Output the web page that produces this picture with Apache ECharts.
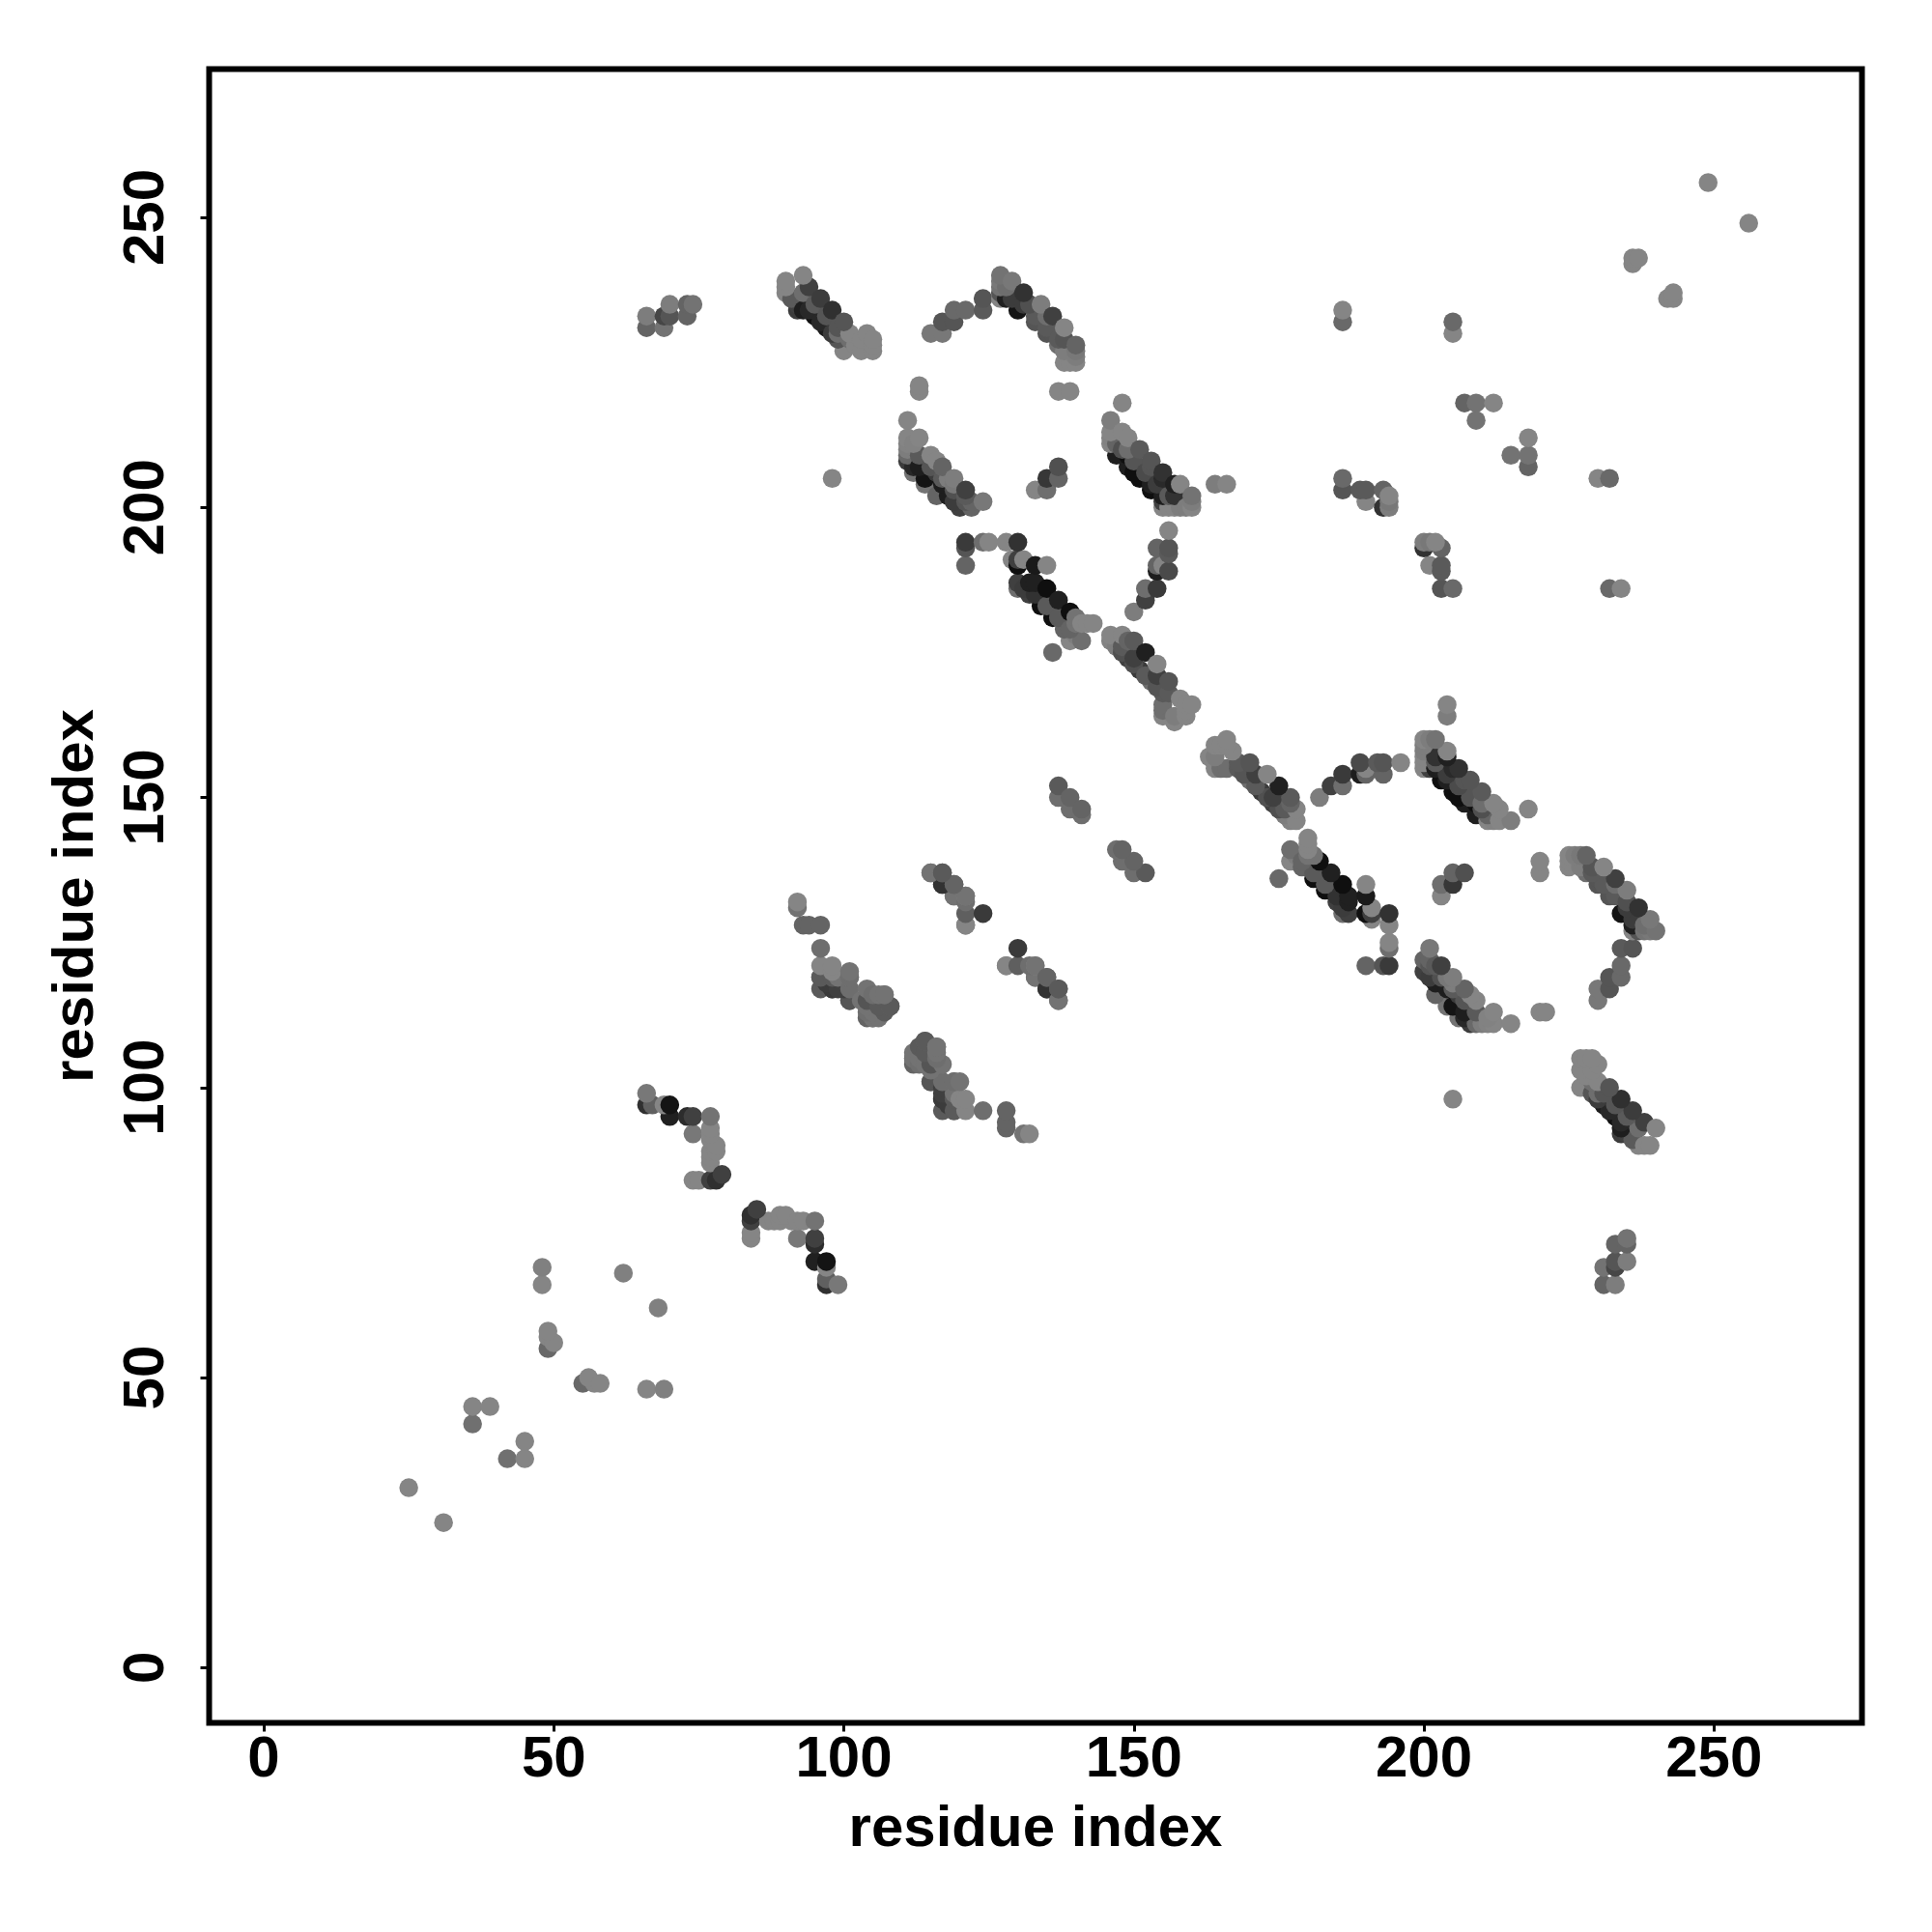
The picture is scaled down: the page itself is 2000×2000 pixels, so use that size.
<!DOCTYPE html>
<html><head><meta charset="utf-8">
<style>html,body{margin:0;padding:0;background:#fff}#c{width:2000px;height:2000px}</style>
<script src="https://cdn.jsdelivr.net/npm/echarts@6/dist/echarts.min.js"></script>
</head><body><div id="c"></div>
<script>
const tickLabels=[0,50,100,150,200,250];
const axisTitle="residue index";
// contacts: [residue i, residue j, grey level]
const scattered=[[25,31,133],[36,42,112],[36,45,133],[39,45,133],[48,66,133],[48,69,128],[49,55,104],[49,57,133],[49,58,133],[50,56,133],[62,68,128],[98,205,133],[113,220,133],[113,221,133],[137,220,133],[139,220,133],[236,242,133],[236,243,133],[237,243,133],[249,256,133]];
const hairpin=[[66,97,48],[66,99,120],[67,97,96],[69,97,133],[70,97,20],[70,95,32],[73,95,44],[74,95,64],[74,92,120],[77,95,115],[77,93,133],[77,92,133],[77,91,133],[78,90,133],[78,89,133],[77,89,133],[77,88,133],[77,87,133],[74,84,133],[75,84,133],[77,84,64],[78,84,48],[79,85,64]];
const clusterA=[[66,231,100],[66,233,125],[69,231,115],[69,233,70],[70,233,85],[70,235,125],[73,233,100],[73,235,100],[74,235,115]];
const clusterB=[[90,237,133],[90,238,133],[90,239,133],[93,240,133],[92,235,64],[91,236,90],[92,234,60],[93,237,110],[94,238,64],[95,235,90],[96,236,60],[97,233,85],[98,234,48],[99,231,85],[100,232,85],[95,233,16],[97,231,28],[99,229,85],[101,229,110],[100,227,133],[102,228,133],[103,229,133],[104,230,133],[105,228,133],[105,227,133],[101,230,133],[103,227,133],[105,229,133],[99,230,110],[94,234,40],[96,232,40],[98,230,60],[93,234,30]];
const arcC=[[115,230,120],[117,230,120],[117,232,85],[119,232,85],[119,234,105],[121,234,105],[124,234,90],[124,236,85]];
const clusterC=[[127,240,115],[127,239,120],[128,238,110],[127,238,115],[129,239,120],[127,237,85],[127,236,133],[128,236,32],[130,234,20],[131,237,50],[132,235,80],[134,235,125],[133,232,85],[135,230,85],[136,233,64],[136,230,85],[135,233,110],[138,231,133],[138,229,85],[137,228,110],[138,227,125],[140,228,100],[139,225,133],[140,226,125],[138,225,133],[140,225,133],[140,227,120],[129,236,60],[131,235,60],[133,233,90],[135,231,90],[137,229,90]];
const clusterD=[[111,215,133],[111,212,133],[113,212,133],[111,211,130],[111,210,125],[112,211,130],[111,209,105],[111,208,60],[112,207,40],[112,206,115],[113,207,30],[114,204,115],[114,205,20],[115,209,133],[116,208,133],[117,207,100],[116,206,60],[116,202,100],[117,204,30],[119,205,125],[118,205,125],[119,204,120],[118,202,30],[121,203,64],[120,200,64],[122,200,100],[122,201,100],[124,201,120],[119,201,60],[121,201,85],[113,209,90],[115,207,85],[117,205,90],[119,203,80],[121,202,90]];
const clusterE=[[133,203,133],[135,203,110],[135,205,55],[137,205,100],[137,207,80]];
const clusterF=[[146,211,133],[146,212,130],[146,213,133],[146,215,125],[148,218,133],[148,213,133],[149,212,133],[147,211,100],[147,209,30],[149,207,30],[149,209,15],[149,210,110],[151,210,90],[151,205,15],[150,206,15],[153,208,85],[153,207,85],[153,203,15],[153,204,32],[155,206,50],[155,205,42],[155,203,32],[155,202,30],[155,201,64],[155,200,133],[157,202,50],[157,204,32],[158,204,133],[156,200,133],[157,200,133],[158,200,125],[159,200,125],[160,200,133],[160,201,125],[160,202,115],[164,204,125],[166,204,133],[148,210,80],[150,208,85],[152,206,75],[154,204,60],[156,202,90]];
const clusterG=[[186,232,105],[186,234,133],[205,230,133],[205,232,105],[207,218,100],[209,218,115],[212,218,133],[209,215,115],[186,203,85],[186,205,105],[189,203,90],[190,203,90],[190,201,133],[193,203,100],[193,200,50],[194,202,133],[194,200,125],[194,201,120]];
const loopH=[[150,182,125],[152,184,64],[152,186,110],[154,186,58],[154,189,30],[154,190,100],[155,190,133],[156,189,74],[156,192,90],[156,193,85],[154,193,100],[156,196,133]];
const clusterI=[[121,194,58],[121,193,85],[121,190,100],[124,194,110],[125,194,133],[128,194,133],[130,194,50],[129,191,133],[130,191,64],[131,191,133],[130,190,16],[133,190,26],[135,190,133],[130,187,64],[130,186,110],[132,187,32],[133,187,32],[135,186,15],[137,184,32],[139,182,15],[132,185,64],[134,183,15],[136,181,15],[138,179,100],[140,181,115],[140,180,115],[141,180,133],[142,180,133],[143,180,133],[139,177,133],[140,178,125],[141,177,110],[136,175,105],[131,186,60],[133,185,50],[135,183,90],[137,181,90],[139,179,100]];
const clusterJ=[[146,178,133],[148,178,133],[146,177,130],[149,177,100],[150,177,90],[147,176,125],[148,176,90],[149,174,64],[150,174,64],[152,175,32],[151,172,58],[154,173,133],[154,171,64],[153,170,110],[156,170,85],[155,168,90],[156,168,90],[158,167,133],[160,166,133],[159,166,133],[159,165,133],[155,164,133],[157,163,133],[159,164,133],[155,165,110],[155,166,110],[157,164,125],[148,175,80],[150,173,80],[152,171,90],[154,169,85]];
const clusterK=[[137,152,90],[137,150,110],[139,150,100],[139,148,110],[141,148,100],[141,147,110]];
const clusterL=[[92,131,115],[92,132,133],[93,128,100],[94,128,100],[96,128,100],[96,124,110],[96,121,133],[98,121,133],[96,119,90],[98,117,64],[99,117,64],[100,117,64],[101,120,115],[101,119,115],[99,119,115],[101,117,110],[101,115,85],[104,117,115],[106,116,115],[107,116,115],[108,114,100],[107,113,90],[106,112,115],[105,113,115],[104,114,115],[103,115,115],[105,112,115],[105,116,110]];
const clusterM=[[115,137,115],[117,137,100],[117,135,55],[119,135,100],[119,133,115],[121,133,133],[121,130,95],[124,130,58],[121,128,115],[121,132,110],[133,119,115],[133,121,115],[135,119,100],[135,117,50],[137,117,90],[137,115,115]];
const upperOnlyN=[[128,121,133]];
const clusterO=[[104,112,100],[105,112,115],[106,114,90],[107,116,115],[108,114,90],[104,113,110],[104,115,85],[101,115,85],[101,119,110],[98,117,58],[97,118,60],[96,119,90],[96,117,90],[98,120,133],[98,119,90]];
const shapes=[scattered,hairpin,clusterA,clusterB,arcC,clusterC,clusterD,clusterE,clusterF,clusterG,loopH,clusterI,clusterJ,clusterK,clusterL,clusterM,upperOnlyN,clusterO];

const points=[];
shapes.forEach(list=>list.forEach(c=>{points.push([c[0],c[1],c[2]]);points.push([c[1],c[0],c[2]]);}));
points.sort((a,b)=>(a[0]+a[1])-(b[0]+b[1]));

const font="'Liberation Sans'";
function axis(){return {type:'value',name:axisTitle,nameLocation:'middle',
 nameTextStyle:{fontFamily:font,fontWeight:'bold',fontSize:60,color:'#000'},
 splitLine:{show:false},axisLine:{show:false,onZero:false},
 axisTick:{show:true,length:9,lineStyle:{color:'#000',width:3},customValues:tickLabels},
 axisLabel:{fontFamily:font,fontWeight:'bold',fontSize:60,color:'#000',customValues:tickLabels,showMinLabel:true,showMaxLabel:true}};}
const xA=axis(),yA=axis();
xA.min=-9.41;xA.max=275.52;xA.nameGap=81;xA.axisLabel.margin=9;
yA.min=-9.53;yA.max=275.57;yA.nameGap=107;yA.axisLabel.rotate=90;yA.axisLabel.margin=34;
const chart=echarts.init(document.getElementById('c'),null,{renderer:'canvas'});
chart.setOption({animation:false,backgroundColor:'#fff',
 grid:{left:216.5,top:71.5,width:1711,height:1712,show:true,borderColor:'#000',borderWidth:6,backgroundColor:'transparent',containLabel:false},
 xAxis:xA,yAxis:yA,
 series:[{type:'scatter',data:points,symbol:'circle',symbolSize:19.5,silent:true,large:false,progressive:0,clip:false,
  itemStyle:{opacity:1,color:p=>{const g=p.value[2];return 'rgb('+g+','+g+','+g+')';}}}]});
</script></body></html>
